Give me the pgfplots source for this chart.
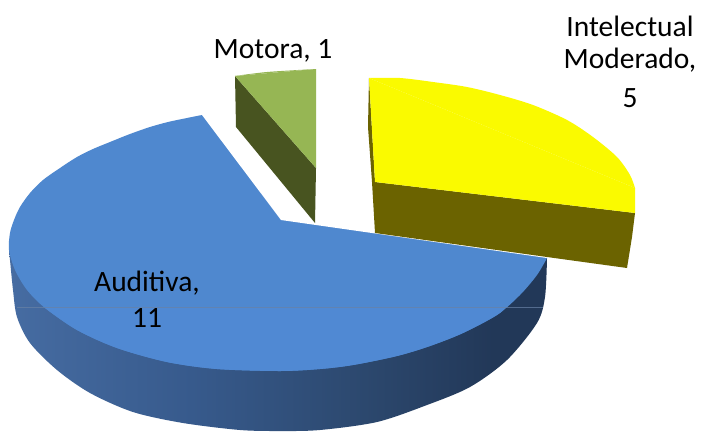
\documentclass[border=0pt]{standalone}
\usepackage{fontspec}
\setmainfont{Carlito}
\usepackage{pgfplots}
\pgfplotsset{compat=1.18}
\definecolor{bluetop}{RGB}{79,136,207}
\definecolor{bluelow}{RGB}{80,137,211}
\definecolor{yel}{RGB}{250,250,0}
\definecolor{olive2}{RGB}{107,99,0}
\definecolor{grn}{RGB}{150,182,84}
\definecolor{grndark}{RGB}{72,84,32}
\definecolor{seam}{RGB}{105,130,165}
\definecolor{bs0}{RGB}{76,125,190}
\definecolor{bs1}{RGB}{76,120,180}
\definecolor{bs2}{RGB}{70,108,162}
\definecolor{bs3}{RGB}{55,90,140}
\definecolor{bs4}{RGB}{44,72,110}
\definecolor{bs5}{RGB}{34,56,88}
\pgfdeclarehorizontalshading{blueside}{100bp}{
  color(0bp)=(bs0);
  color(12bp)=(bs1);
  color(25bp)=(bs2);
  color(42bp)=(bs3);
  color(58bp)=(bs4);
  color(70bp)=(bs5);
  color(100bp)=(bs5)}
\begin{document}
\begin{tikzpicture}[lab/.style={font=\fontsize{29.5}{34}\selectfont, anchor=center}]
\begin{axis}[
  scale only axis, width=701pt, height=431pt,
  xmin=0, xmax=701, ymin=0, ymax=431,
  y dir=reverse, hide axis, clip=false,
]
% page corners
\addplot[draw=none, fill=white] coordinates {(0,0)(701,0)(701,431)(0,431)} -- cycle;
% blue side
\addplot[draw=none, shading=blueside, smooth] coordinates {(9,250)(10,260)(13,290)(17,317)(30,343)(57,370)(90,393)(133,412)(183,423)(240,430)(280,431)(320,430)(377,422)(427,405)(470,387)(507,360)(537,323)(545,297)(547,258)};
% blue top, arc then notch cut out in white
\addplot[draw=none, fill=bluetop, smooth] coordinates {(202,115)(187,118)(168,122)(150,127)(130,134)(110,142)(93,149)(77,157)(60,168)(43,180)(30,193)(20,207)(14,220)(10,233)(9,250)(15,270)(27,290)(45,308)(77,330)(117,348)(167,362)(217,369)(280,371)(320,369)(353,365)(397,356)(430,346)(463,333)(497,315)(520,295)(537,275)(547,258)};
\addplot[draw=none, fill=bluelow, smooth] coordinates {(45,308)(77,330)(117,348)(167,362)(217,369)(280,371)(320,369)(353,365)(397,356)(430,346)(463,333)(497,315)(505,308)};
\addplot[draw=none, fill=white] coordinates {(202,115)(281,220)(547,258)(400,100)} -- cycle;
\addplot[color=seam, opacity=0.7, line width=0.5pt] coordinates {(17,307)(543,307)};
% green slice
\addplot[draw=none, fill=grndark] coordinates {(235,76)(236,127)(315,223)(316,168)} -- cycle;
\addplot[draw=none, fill=grn, smooth] coordinates {(235,76)(267,72)(316,69)};
\addplot[draw=none, fill=grn] coordinates {(235,76)(316,69)(316,168)} -- cycle;
% yellow slice
\addplot[draw=none, fill=olive2] coordinates {(369,78)(368,127)(372,182)(375,233)(547,257)(627,268)(632,237)(635,213)(375,182)} -- cycle;
\addplot[draw=none, fill=yel, smooth] coordinates {(369,78)(400,78)(433,82)(467,87)(500,95)(533,105)(567,120)(593,137)(617,157)(630,175)(635,188)};
\addplot[draw=none, fill=yel] coordinates {(369,78)(635,188)(635,213)(375,182)} -- cycle;
\node[lab] at (axis cs:273,51) {Motora, 1};
\node[lab] at (axis cs:630,26) {Intelectual};
\node[lab] at (axis cs:630,60) {Moderado,};
\node[lab] at (axis cs:630,98) {5};
\node[lab] at (axis cs:147,283) {Auditiva,};
\node[lab] at (axis cs:147,318) {11};
\end{axis}
\end{tikzpicture}
\end{document}
